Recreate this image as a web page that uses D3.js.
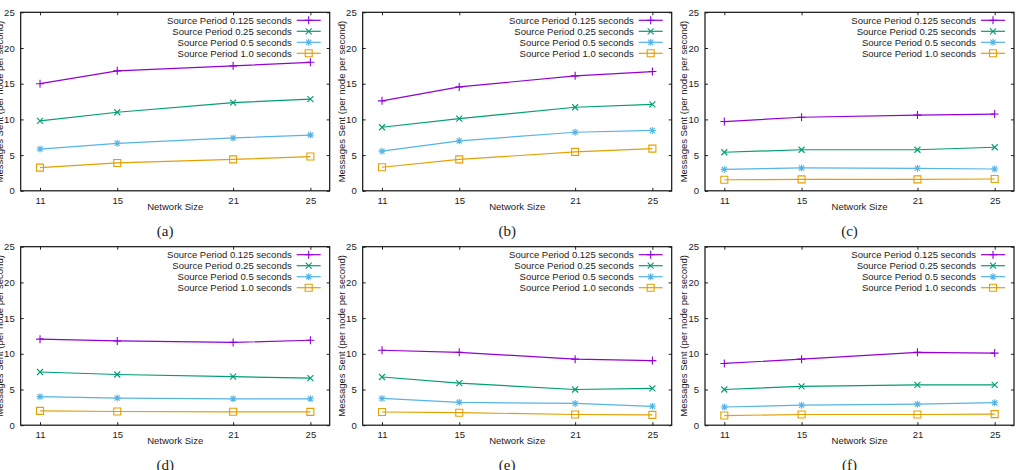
<!DOCTYPE html>
<html>
<head>
<meta charset="utf-8">
<script src="https://cdn.jsdelivr.net/npm/d3@7"></script>
<style>
  body { margin: 0; background: #fff; }
  svg { display: block; }
  text { font-family: "Liberation Sans", Arial, sans-serif; fill: #222; }
</style>
</head>
<body>
<script>
// network sizes on the x axis
var sizes = [11, 15, 21, 25];
var seriesNames = ["Source Period 0.125 seconds", "Source Period 0.25 seconds",
                   "Source Period 0.5 seconds", "Source Period 1.0 seconds"];
var colors = ["#9400d3", "#009e73", "#56b4e9", "#e69f00"];
var yTicks = [0, 5, 10, 15, 20, 25];
var captions = ["(a)", "(b)", "(c)", "(d)", "(e)", "(f)"];

// one row per source period, one value per network size
var panelA = [[15.0, 16.8, 17.5, 18.0], [9.8, 11.0, 12.35, 12.85], [5.85, 6.65, 7.4, 7.8], [3.25, 3.9, 4.4, 4.8]];
var panelB = [[12.6, 14.55, 16.1, 16.7], [8.9, 10.1, 11.7, 12.1], [5.55, 7.0, 8.2, 8.45], [3.3, 4.4, 5.45, 5.9]];
var panelC = [[9.7, 10.3, 10.6, 10.75], [5.4, 5.75, 5.75, 6.1], [3.0, 3.2, 3.15, 3.05], [1.55, 1.6, 1.6, 1.65]];
var panelD = [[12.05, 11.8, 11.6, 11.9], [7.45, 7.1, 6.8, 6.6], [4.0, 3.8, 3.7, 3.7], [2.0, 1.92, 1.88, 1.87]];
var panelE = [[10.5, 10.2, 9.25, 9.05], [6.75, 5.9, 5.0, 5.15], [3.75, 3.2, 3.05, 2.65], [1.85, 1.75, 1.5, 1.45]];
var panelF = [[8.65, 9.25, 10.2, 10.1], [5.0, 5.45, 5.65, 5.65], [2.55, 2.8, 2.95, 3.15], [1.35, 1.5, 1.5, 1.55]];
var panels = [panelA, panelB, panelC, panelD, panelE, panelF];

var W = 1016, H = 470;
var pw = 309, ph = 178.5;
var lefts = [20.7, 362.7, 705];
var tops = [12.3, 246.7];

var svg = d3.select("body").append("svg")
    .attr("width", W)
    .attr("height", H);

// gnuplot point types: plus, cross, star, open box
var markers = [
  "M-4,0H4M0,-4V4",
  "M-3,-3L3,3M-3,3L3,-3",
  "M-3.5,0H3.5M0,-3.5V3.5M-2.6,-2.6L2.6,2.6M-2.6,2.6L2.6,-2.6",
  "M-3.5,-3.5H3.5V3.5H-3.5Z"
];

panels.forEach(function(data, p) {
  var ox = lefts[p % 3], oy = tops[Math.floor(p / 3)];
  var g = svg.append("g").attr("transform", "translate(" + ox + "," + oy + ")");

  var x = d3.scaleLinear().domain([10, 26]).range([0, pw]);
  var y = d3.scaleLinear().domain([0, 25]).range([ph, 0]);

  // ticks inside on all four sides
  var ax = g.append("g").attr("transform", "translate(0," + ph + ")")
      .call(d3.axisBottom(x).tickValues(sizes).tickSize(-3).tickPadding(6));
  var axTop = g.append("g")
      .call(d3.axisTop(x).tickValues(sizes).tickSize(-3).tickFormat(""));
  var ay = g.append("g")
      .call(d3.axisLeft(y).tickValues(yTicks).tickSize(-3).tickPadding(6));
  var ayR = g.append("g").attr("transform", "translate(" + pw + ",0)")
      .call(d3.axisRight(y).tickValues(yTicks).tickSize(-3).tickFormat(""));
  [ax, axTop, ay, ayR].forEach(function(a) {
    a.select(".domain").remove();
    a.selectAll("line").attr("stroke", "#222");
    a.selectAll("text").style("font-size", "9.5px").style("fill", "#222")
      .style("font-family", "'Liberation Sans', Arial, sans-serif");
  });

  g.append("rect")
      .attr("width", pw).attr("height", ph)
      .attr("fill", "none").attr("stroke", "#111").attr("stroke-width", 1.2);

  var line = d3.line()
      .x(function(d, i) { return x(sizes[i]); })
      .y(function(d) { return y(d); });

  data.forEach(function(vals, s) {
    g.append("path")
        .attr("d", line(vals))
        .attr("fill", "none")
        .attr("stroke", colors[s])
        .attr("stroke-width", 1.2);
    g.selectAll(null).data(vals).enter().append("path")
        .attr("transform", function(d, i) { return "translate(" + x(sizes[i]) + "," + y(d) + ")"; })
        .attr("d", markers[s])
        .attr("fill", "none")
        .attr("stroke", colors[s])
        .attr("stroke-width", 1.1);
  });

  // legend
  var lg = g.append("g").attr("transform", "translate(" + (pw - 38) + ",8)");
  seriesNames.forEach(function(name, s) {
    var row = lg.append("g").attr("transform", "translate(0," + (s * 11) + ")");
    row.append("text")
        .attr("x", 0).attr("y", 3.3)
        .attr("text-anchor", "end")
        .style("font-size", "9.5px")
        .text(name);
    row.append("line")
        .attr("x1", 5).attr("x2", 29)
        .attr("stroke", colors[s]).attr("stroke-width", 1.2);
    row.append("path")
        .attr("transform", "translate(17,0)")
        .attr("d", markers[s])
        .attr("fill", "none").attr("stroke", colors[s]).attr("stroke-width", 1.1);
  });

  g.append("text")
      .attr("x", pw / 2).attr("y", ph + 19)
      .attr("text-anchor", "middle")
      .style("font-size", "9.5px")
      .text("Network Size");

  g.append("text")
      .attr("transform", "translate(-18," + (ph / 2) + ") rotate(-90)")
      .attr("text-anchor", "middle")
      .style("font-size", "9.5px")
      .text("Messages Sent (per node per second)");

  g.append("text")
      .attr("x", pw / 2 - 10).attr("y", ph + 45)
      .attr("text-anchor", "middle")
      .style("font-family", "'Liberation Serif', 'Times New Roman', serif")
      .style("font-size", "15px")
      .text(captions[p]);
});
</script>
</body>
</html>
